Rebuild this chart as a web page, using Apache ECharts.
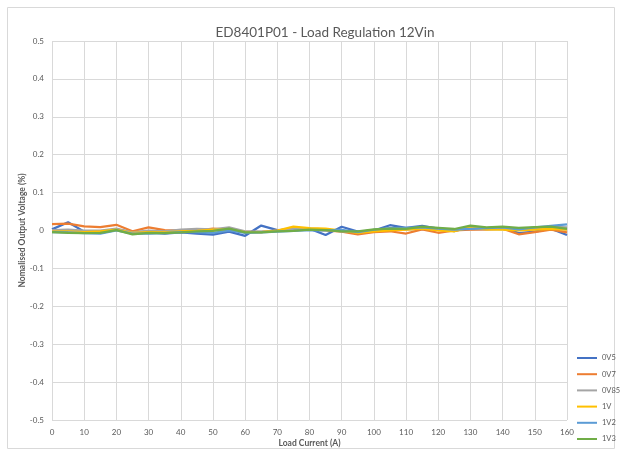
<!DOCTYPE html>
<html>
<head>
<meta charset="utf-8">
<script src="https://cdn.jsdelivr.net/npm/echarts@6/dist/echarts.min.js"></script>
<style>
  html, body { margin: 0; padding: 0; background: #fff; }
  #chart { width: 622px; height: 456px; }
</style>
</head>
<body>
<div id="chart"></div>
<script>
// load current (A), one point every 5 A
const currents = [0, 5, 10, 15, 20, 25, 30, 35, 40, 45, 50, 55, 60, 65, 70, 75, 80,
  85, 90, 95, 100, 105, 110, 115, 120, 125, 130, 135, 140, 145, 150, 155, 160]

const names = ['0V5', '0V7', '0V85', '1V', '1V2', '1V3']
const colors = ['#4472C4', '#ED7D31', '#A5A5A5', '#FFC000', '#5B9BD5', '#70AD47']

// normalised output voltage (%)
const v0V5 = [0.003, 0.022, -0.003, -0.006, 0.003, -0.005, -0.004, -0.008, -0.005, -0.008, -0.011,
  -0.003, -0.014, 0.013, 0.001, 0.002, 0.005, -0.012, 0.010, -0.003, 0.000, 0.014, 0.007,
  0.012, 0.005, -0.002, 0.010, 0.006, 0.008, -0.007, -0.003, 0.005, -0.012]
const v0V7 = [0.017, 0.018, 0.011, 0.009, 0.015, -0.002, 0.008, 0.001, 0.000, 0.000, 0.005,
  0.002, -0.003, -0.004, 0.000, 0.006, 0.003, 0.000, -0.003, -0.010, -0.004, -0.002, -0.008,
  0.003, -0.006, 0.000, 0.002, 0.003, 0.005, -0.010, -0.004, 0.002, -0.005]
const v0V85 = [0.001, 0.002, 0.000, 0.000, 0.005, -0.005, 0.000, -0.002, 0.002, 0.004, 0.003,
  0.008, -0.002, -0.003, 0.000, 0.004, 0.005, 0.003, -0.002, -0.004, 0.000, 0.005, 0.003,
  0.006, 0.002, 0.001, 0.006, 0.004, 0.006, 0.002, 0.005, 0.010, 0.008]
const v1V = [-0.003, -0.002, -0.004, -0.002, 0.002, -0.006, -0.004, -0.005, -0.002, -0.001, 0.002,
  0.002, -0.004, -0.004, 0.000, 0.010, 0.006, 0.005, 0.000, -0.006, -0.002, 0.000, 0.002,
  0.005, 0.000, -0.002, 0.008, 0.003, 0.002, 0.000, 0.002, 0.004, 0.002]
const v1V2 = [-0.004, -0.005, -0.007, -0.008, 0.000, -0.008, -0.008, -0.007, -0.004, -0.004, -0.006,
  0.000, -0.006, -0.005, -0.003, -0.001, 0.001, 0.000, 0.002, -0.004, 0.002, 0.006, 0.007,
  0.008, 0.005, 0.002, 0.004, 0.006, 0.008, 0.003, 0.008, 0.012, 0.016]
const v1V3 = [-0.004, -0.006, -0.007, -0.006, 0.001, -0.010, -0.006, -0.007, -0.005, -0.002, -0.001,
  0.005, -0.005, -0.005, -0.002, -0.001, 0.002, 0.001, -0.002, -0.002, 0.003, 0.005, 0.004,
  0.010, 0.007, 0.004, 0.013, 0.008, 0.010, 0.007, 0.009, 0.010, 0.004]

const values = [v0V5, v0V7, v0V85, v1V, v1V2, v1V3]

const textColor = '#595959'
const gridColor = '#D9D9D9'
const font = 'Lato, "Open Sans", sans-serif'

const chart = echarts.init(document.getElementById('chart'))

const options = {
  animation: false,
  color: colors,
  textStyle: { fontFamily: font },
  graphic: [{
    type: 'rect',
    shape: { x: 7.5, y: 7.5, width: 607, height: 441 },
    style: { fill: 'none', stroke: gridColor, lineWidth: 1 },
    silent: true
  }],
  title: {
    text: 'ED8401P01 - Load Regulation 12Vin',
    left: 320,
    textAlign: 'center',
    top: 21,
    textStyle: { color: textColor, fontSize: 13.5, fontWeight: 'normal', fontFamily: font }
  },
  legend: {
    orient: 'vertical',
    left: 577,
    top: 353,
    padding: 0,
    itemWidth: 20,
    itemHeight: 2,
    itemGap: 6.2,
    icon: 'rect',
    data: names,
    textStyle: { color: textColor, fontSize: 7.5, lineHeight: 10, height: 10 }
  },
  grid: {
    left: 52,
    right: 55,
    top: 41,
    bottom: 36
  },
  xAxis: {
    type: 'value',
    min: 0,
    max: 160,
    interval: 10,
    name: 'Load Current (A)',
    nameLocation: 'middle',
    nameGap: 19,
    nameMoveOverlap: false,
    nameTextStyle: { color: textColor, fontSize: 8.5, fontWeight: 'bold' },
    axisLine: { show: false },
    axisTick: { show: false },
    axisLabel: { color: textColor, fontSize: 8, margin: 8 },
    splitLine: { show: true, lineStyle: { color: gridColor, width: 1 } }
  },
  yAxis: {
    type: 'value',
    min: -0.5,
    max: 0.5,
    interval: 0.1,
    name: 'Nomalised Output Voltage (%)',
    nameLocation: 'middle',
    nameGap: 25,
    nameMoveOverlap: false,
    nameTextStyle: { color: textColor, fontSize: 8.5, fontWeight: 'bold' },
    axisLine: { show: false },
    axisTick: { show: false },
    axisLabel: {
      color: textColor,
      fontSize: 8,
      margin: 8,
      formatter: v => (Math.abs(v) < 1e-9 ? '0' : String(Math.round(v * 10) / 10))
    },
    splitLine: { lineStyle: { color: gridColor, width: 1 } }
  },
  series: names.map((n, i) => ({
    name: n,
    type: 'line',
    showSymbol: false,
    symbol: 'none',
    lineStyle: { width: 2.25, color: colors[i] },
    data: currents.map((c, j) => [c, values[i][j]])
  }))
}

chart.setOption(options)
</script>
</body>
</html>
